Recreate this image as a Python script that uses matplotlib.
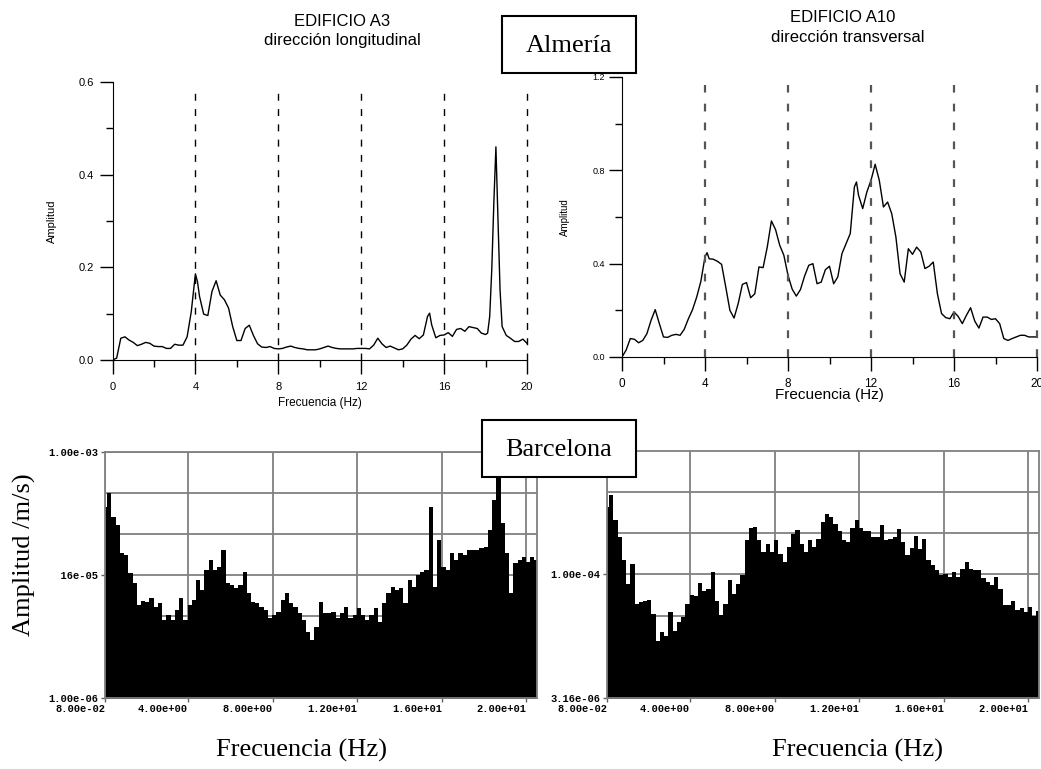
import matplotlib
matplotlib.use("Agg")
import matplotlib.pyplot as plt
from matplotlib.patches import Rectangle
from matplotlib.transforms import ScaledTranslation

# ---------------- data ----------------
# Almería, EDIFICIO A3, dirección longitudinal
freq_a3 = [0.0, 0.2, 0.4, 0.6, 0.8, 1.0, 1.2, 1.4, 1.6, 1.8, 2.0, 2.2, 2.4, 2.6, 2.8,
           3.0, 3.2, 3.4, 3.6, 3.8, 4.0, 4.1, 4.2, 4.4, 4.6, 4.8, 5.0, 5.2, 5.4, 5.6,
           5.8, 6.0, 6.2, 6.4, 6.6, 6.8, 7.0, 7.2, 7.4, 7.6, 7.8, 8.0, 8.2, 8.4, 8.6,
           8.8, 9.0, 9.2, 9.4, 9.6, 9.8, 10.0, 10.2, 10.4, 10.6, 10.8, 11.0, 11.2, 11.4,
           11.6, 11.8, 12.0, 12.2, 12.4, 12.6, 12.8, 13.0, 13.2, 13.4, 13.6, 13.8, 14.0,
           14.2, 14.4, 14.6, 14.8, 15.0, 15.2, 15.3, 15.4, 15.6, 15.8, 16.0, 16.2, 16.4,
           16.6, 16.8, 17.0, 17.2, 17.4, 17.6, 17.8, 18.0, 18.1, 18.2, 18.3, 18.4, 18.5,
           18.6, 18.7, 18.8, 19.0, 19.2, 19.4, 19.6, 19.8, 20.0]
amp_a3 = [0.0, 0.004, 0.047, 0.050, 0.043, 0.038, 0.031, 0.034, 0.038, 0.036, 0.030, 0.029,
          0.029, 0.025, 0.025, 0.034, 0.032, 0.032, 0.050, 0.104, 0.186, 0.169, 0.137, 0.099,
          0.096, 0.148, 0.171, 0.140, 0.130, 0.112, 0.072, 0.042, 0.042, 0.068, 0.075, 0.053,
          0.035, 0.028, 0.027, 0.029, 0.025, 0.024, 0.025, 0.028, 0.030, 0.027, 0.025, 0.024,
          0.022, 0.022, 0.022, 0.024, 0.027, 0.030, 0.027, 0.025, 0.024, 0.024, 0.024, 0.024,
          0.025, 0.025, 0.025, 0.024, 0.032, 0.047, 0.035, 0.027, 0.030, 0.026, 0.022, 0.024,
          0.032, 0.045, 0.053, 0.046, 0.054, 0.094, 0.101, 0.076, 0.048, 0.053, 0.054, 0.059,
          0.051, 0.066, 0.068, 0.062, 0.072, 0.070, 0.068, 0.058, 0.055, 0.058, 0.094, 0.195,
          0.339, 0.460, 0.303, 0.151, 0.072, 0.053, 0.047, 0.040, 0.040, 0.045, 0.036]

# Almería, EDIFICIO A10, dirección transversal
freq_a10 = [0.0, 0.2, 0.4, 0.6, 0.8, 1.0, 1.2, 1.4, 1.6, 1.8, 2.0, 2.2, 2.4, 2.6, 2.8,
            3.0, 3.2, 3.4, 3.6, 3.8, 4.0, 4.1, 4.2, 4.4, 4.6, 4.8, 5.0, 5.2, 5.4, 5.6,
            5.8, 6.0, 6.2, 6.4, 6.6, 6.8, 7.0, 7.2, 7.4, 7.6, 7.8, 8.0, 8.2, 8.4, 8.6,
            8.8, 9.0, 9.2, 9.4, 9.6, 9.8, 10.0, 10.2, 10.4, 10.6, 10.8, 11.0, 11.2, 11.3,
            11.4, 11.6, 11.8, 12.0, 12.2, 12.4, 12.6, 12.8, 13.0, 13.2, 13.4, 13.6, 13.8,
            14.0, 14.2, 14.4, 14.6, 14.8, 15.0, 15.2, 15.4, 15.6, 15.8, 16.0, 16.2, 16.4,
            16.6, 16.8, 17.0, 17.2, 17.4, 17.6, 17.8, 18.0, 18.2, 18.4, 18.6, 18.8, 19.0,
            19.2, 19.4, 19.6, 19.8, 20.0]
amp_a10 = [0.0, 0.030, 0.079, 0.076, 0.061, 0.071, 0.100, 0.157, 0.203, 0.143, 0.086, 0.084,
           0.093, 0.097, 0.093, 0.119, 0.164, 0.203, 0.257, 0.324, 0.429, 0.447, 0.421, 0.419,
           0.410, 0.397, 0.300, 0.200, 0.167, 0.229, 0.311, 0.319, 0.254, 0.271, 0.386, 0.383,
           0.471, 0.583, 0.546, 0.479, 0.436, 0.350, 0.291, 0.261, 0.289, 0.347, 0.393, 0.400,
           0.314, 0.321, 0.374, 0.389, 0.314, 0.343, 0.443, 0.486, 0.529, 0.729, 0.750, 0.693,
           0.636, 0.707, 0.757, 0.826, 0.757, 0.643, 0.664, 0.614, 0.514, 0.357, 0.321, 0.464,
           0.440, 0.471, 0.450, 0.379, 0.389, 0.407, 0.271, 0.186, 0.169, 0.164, 0.193, 0.174,
           0.143, 0.179, 0.211, 0.154, 0.124, 0.171, 0.171, 0.161, 0.164, 0.143, 0.079, 0.071,
           0.079, 0.086, 0.093, 0.093, 0.086, 0.086, 0.086]

# Barcelona spectra: frequency bins from 0.08 Hz every 0.2 Hz, amplitude in 1e-6 m/s
freq_bcn = [0.08, 0.28, 0.48, 0.68, 0.88, 1.08, 1.28, 1.48, 1.68, 1.88, 2.08, 2.28, 2.48,
            2.68, 2.88, 3.08, 3.28, 3.48, 3.68, 3.88, 4.08, 4.28, 4.48, 4.68, 4.88, 5.08,
            5.28, 5.48, 5.68, 5.88, 6.08, 6.28, 6.48, 6.68, 6.88, 7.08, 7.28, 7.48, 7.68,
            7.88, 8.08, 8.28, 8.48, 8.68, 8.88, 9.08, 9.28, 9.48, 9.68, 9.88, 10.08, 10.28,
            10.48, 10.68, 10.88, 11.08, 11.28, 11.48, 11.68, 11.88, 12.08, 12.28, 12.48,
            12.68, 12.88, 13.08, 13.28, 13.48, 13.68, 13.88, 14.08, 14.28, 14.48, 14.68,
            14.88, 15.08, 15.28, 15.48, 15.68, 15.88, 16.08, 16.28, 16.48, 16.68, 16.88,
            17.08, 17.28, 17.48, 17.68, 17.88, 18.08, 18.28, 18.48, 18.68, 18.88, 19.08,
            19.28, 19.48, 19.68, 19.88, 20.08, 20.28, 20.48]
amp_bcn_left = [215, 313, 163, 129, 58, 55.5, 33, 25, 13.6, 15.4, 15, 16.4, 13, 14.3, 8.9,
                10.3, 8.9, 11.8, 16.4, 8.9, 13.6, 15.7, 27.5, 20.7, 36.4, 48.2, 36.4, 40, 63.8,
                25, 23.9, 21.7, 23.9, 34.7, 18.9, 15, 14.3, 13, 11.8, 9.4, 10.3, 11.3, 15.7,
                18.9, 14.3, 13, 10.8, 8.9, 6.4, 5.1, 7.4, 15, 10.8, 10.8, 11.3, 9.4, 10.8, 13,
                9.4, 10.3, 12.4, 10.3, 8.9, 10.3, 12.4, 8.5, 14.3, 18.9, 22.8, 20.7, 21.7, 14.3,
                27.5, 22.8, 31.6, 34.7, 36.4, 215, 22.8, 84.5, 40, 36.4, 58, 48.2, 58, 55.5,
                63.8, 63.8, 63.8, 66.8, 70.1, 112, 260, 964, 135, 58, 18.9, 43.9, 48.2, 53, 46,
                53, 48.2]
amp_bcn_right = [662, 918, 456, 285, 148, 76.9, 135, 43.9, 46, 48.2, 49.1, 33.1, 15.7, 19.8,
                 18, 34.8, 20.7, 26.2, 30.2, 43.9, 57, 55.5, 78.3, 62.6, 66.8, 107, 48.2, 32.2,
                 43.9, 84.5, 58.1, 76.9, 97.3, 260, 371, 378, 260, 187, 237, 187, 265, 179,
                 141, 215, 308, 344, 237, 187, 260, 215, 272, 435, 540, 495, 415, 337, 260,
                 248, 371, 465, 371, 337, 337, 285, 285, 396, 260, 272, 285, 357, 248, 171,
                 211, 290, 206, 272, 148, 129, 112, 97.3, 102, 92.7, 107, 92.7, 117, 141, 117,
                 112, 112, 91, 80.7, 75.5, 92.7, 66.8, 43.1, 43.1, 48.2, 37.1, 39.2, 34.8, 40,
                 31.6, 36.4]
UNIT = 1e-6

top_xticks = [0, 4, 8, 12, 16, 20]
top_xminor = [2, 6, 10, 14, 18]
a3_yticks = [0.0, 0.2, 0.4, 0.6]
a3_yminor = [0.1, 0.3, 0.5]
a10_yticks = [0.0, 0.4, 0.8, 1.2]
a10_yminor = [0.2, 0.6, 1.0]
bcn_xticks = [0.08, 4, 8, 12, 16, 20]
bcn_xlabels = ["8.00e-02", "4.00e+00", "8.00e+00", "1.20e+01", "1.60e+01", "2.00e+01"]
bcnL_yticks = [1e-6, 3.16e-5, 1e-3]
bcnL_ylabels = ["1.00e-06", "3.16e-05", "1.00e-03"]
bcnL_ygrid = [3.16e-6, 1e-5, 1e-4, 3.16e-4]
bcnR_yticks = [3.16e-6, 1e-4]
bcnR_ylabels = ["3.16e-06", "1.00e-04"]
bcnR_ygrid = [1e-5, 3.16e-5, 3.16e-4, 1e-3]

# ---------------- layout helpers ----------------
W, H = 1041, 769
SANS = ["Liberation Sans", "DejaVu Sans"]
SERIF = ["Liberation Serif", "DejaVu Serif"]
MONO = ["Liberation Mono", "DejaVu Sans Mono"]


def rect(l, t, r, b):
    return [l / W, 1 - b / H, (r - l) / W, (b - t) / H]


def fx(x):
    return x / W


def fy(y):
    return 1 - y / H


fig = plt.figure(figsize=(W / 100, H / 100), dpi=100)
fig.patch.set_facecolor("white")

# ---------------- top-left: A3 ----------------
ax1 = fig.add_axes(rect(112.5, 82, 527, 360))
ax1.plot(freq_a3, amp_a3, color="black", lw=1.0)
ax1.vlines([4, 8, 12, 16, 20], 0, 0.585, colors="black", lw=1.0,
           linestyles=(0, (5, 6)), clip_on=False)
ax1.set_xlim(0, 20)
ax1.set_ylim(0, 0.6)
for s in ("top", "right"):
    ax1.spines[s].set_visible(False)
ax1.set_xticks(top_xticks)
ax1.set_xticks(top_xminor, minor=True)
ax1.set_yticks(a3_yticks)
ax1.set_yticks(a3_yminor, minor=True)
ax1.set_xticklabels([str(v) for v in top_xticks], family=SANS, fontsize=8)
ax1.set_yticklabels(["%.1f" % v for v in a3_yticks], family=SANS, fontsize=8)
ax1.tick_params(axis="x", which="major", length=10, width=1.0, pad=6)
ax1.tick_params(axis="x", which="minor", length=5, width=1.0)
ax1.tick_params(axis="y", which="major", length=9.5, width=1.0, pad=4)
ax1.tick_params(axis="y", which="minor", length=5, width=1.0)
ax1.set_xlabel("Frecuencia (Hz)", family=SANS, fontsize=8.5, va="center")
ax1.xaxis.set_label_coords(0.5, -(403 - 360) / 278)
ax1.set_ylabel("Amplitud", family=SANS, fontsize=8, va="center")
ax1.yaxis.set_label_coords(-(112.5 - 52) / 414.5, 0.5)

# ---------------- top-right: A10 ----------------
ax2 = fig.add_axes(rect(622, 77, 1037, 357))
ax2.plot(freq_a10, amp_a10, color="black", lw=1.0)
ax2.vlines([4, 8, 12, 16, 20], 0, 1.165, colors="#555555", lw=1.6,
           linestyles=(0, (3.5, 5)), clip_on=False)
ax2.set_xlim(0, 20)
ax2.set_ylim(0, 1.2)
for s in ("top", "right"):
    ax2.spines[s].set_visible(False)
ax2.set_xticks(top_xticks)
ax2.set_xticks(top_xminor, minor=True)
ax2.set_yticks(a10_yticks)
ax2.set_yticks(a10_yminor, minor=True)
ax2.set_xticklabels([str(v) for v in top_xticks], family=SANS, fontsize=8.5)
ax2.set_yticklabels(["%.1f" % v for v in a10_yticks], family=SANS, fontsize=6.5)
ax2.tick_params(axis="x", which="major", length=10, width=1.0, pad=5)
ax2.tick_params(axis="x", which="minor", length=5, width=1.0)
ax2.tick_params(axis="y", which="major", length=9.5, width=1.0, pad=3)
ax2.tick_params(axis="y", which="minor", length=5, width=1.0)
ax2.set_xlabel("Frecuencia (Hz)", family=SANS, fontsize=11, va="center")
ax2.xaxis.set_label_coords(0.5, -(395 - 357) / 280)
ax2.set_ylabel("Amplitud", family=SANS, fontsize=7, va="center")
ax2.yaxis.set_label_coords(-(622 - 565) / 415, 0.5)

# titles
fig.text(fx(342), fy(22), "EDIFICIO A3", family=SANS, fontsize=12, ha="center", va="center")
fig.text(fx(342), fy(40), "dirección longitudinal", family=SANS, fontsize=12, ha="center", va="center")
fig.text(fx(843), fy(18), "EDIFICIO A10", family=SANS, fontsize=12, ha="center", va="center")
fig.text(fx(848), fy(37), "dirección transversal", family=SANS, fontsize=12, ha="center", va="center")


# ---------------- bottom: Barcelona ----------------
def bcn_axes(pos, amps, ylim, yticks, ylabels, ygrid, xlabel_x):
    ax = fig.add_axes(pos)
    vals = [a * UNIT for a in amps]
    ax.set_yscale("log")
    ax.fill_between(freq_bcn, vals, ylim[0] * 0.5, step="mid", color="black", lw=0, zorder=2)
    ax.set_xlim(0.08, 20.5)
    ax.set_ylim(*ylim)
    ax.set_xticks(bcn_xticks)
    ax.set_xticklabels(bcn_xlabels, family=MONO, fontsize=7.5, fontweight="bold")
    shift = ScaledTranslation(3 / 100, 0, fig.dpi_scale_trans)
    for lab in ax.get_xticklabels():
        lab.set_horizontalalignment("right")
        lab.set_transform(lab.get_transform() + shift)
    ax.minorticks_off()
    ax.set_yticks(yticks)
    ax.set_yticklabels(ylabels, family=MONO, fontsize=7.5, fontweight="bold")
    ax.set_yticks(ygrid, minor=True)
    ax.grid(True, which="both", color="#808080", lw=1.3, zorder=1)
    ax.set_axisbelow(True)
    ax.tick_params(which="major", length=3, width=1.0, pad=1.5, color="#606060")
    ax.tick_params(which="minor", length=0, labelleft=False)
    for s in ax.spines.values():
        s.set_color("#808080")
        s.set_linewidth(1.3)
    ax.set_xlabel("Frecuencia (Hz)", family=SERIF, fontsize=19, va="center")
    ax.xaxis.set_label_coords(xlabel_x, -(750 - 698) / 246)
    return ax


ax3 = bcn_axes(rect(105, 452, 537, 698), amp_bcn_left, (1e-6, 1e-3),
               bcnL_yticks, bcnL_ylabels, bcnL_ygrid, (301 - 105) / 432)
ax4 = bcn_axes(rect(607, 451, 1039, 698), amp_bcn_right, (3.16e-6, 3.16e-3),
               bcnR_yticks, bcnR_ylabels, bcnR_ygrid, (857 - 607) / 432)

# shared y label (white box as in the original layout)
fig.patches.append(Rectangle((0, fy(592)), fx(60), fy(560) - fy(592), transform=fig.transFigure,
                             facecolor="white", edgecolor="none", zorder=5))
fig.text(fx(24), fy(555), "Amplitud /m/s)", family=SERIF, fontsize=19, rotation=90,
         ha="center", va="center", zorder=6)

# city boxes
for (l, t, r, b, label) in [(502, 16, 636, 73, "Almería"), (482, 420, 636, 477, "Barcelona")]:
    fig.patches.append(Rectangle((fx(l), fy(b)), fx(r) - fx(l), fy(t) - fy(b),
                                 transform=fig.transFigure, facecolor="white",
                                 edgecolor="black", lw=1.5, zorder=7))
    fig.text(fx((l + r) / 2), fy((t + b) / 2 + 1), label, family=SERIF, fontsize=19,
             ha="center", va="center", zorder=8)

fig.savefig("out.png", dpi=100)
